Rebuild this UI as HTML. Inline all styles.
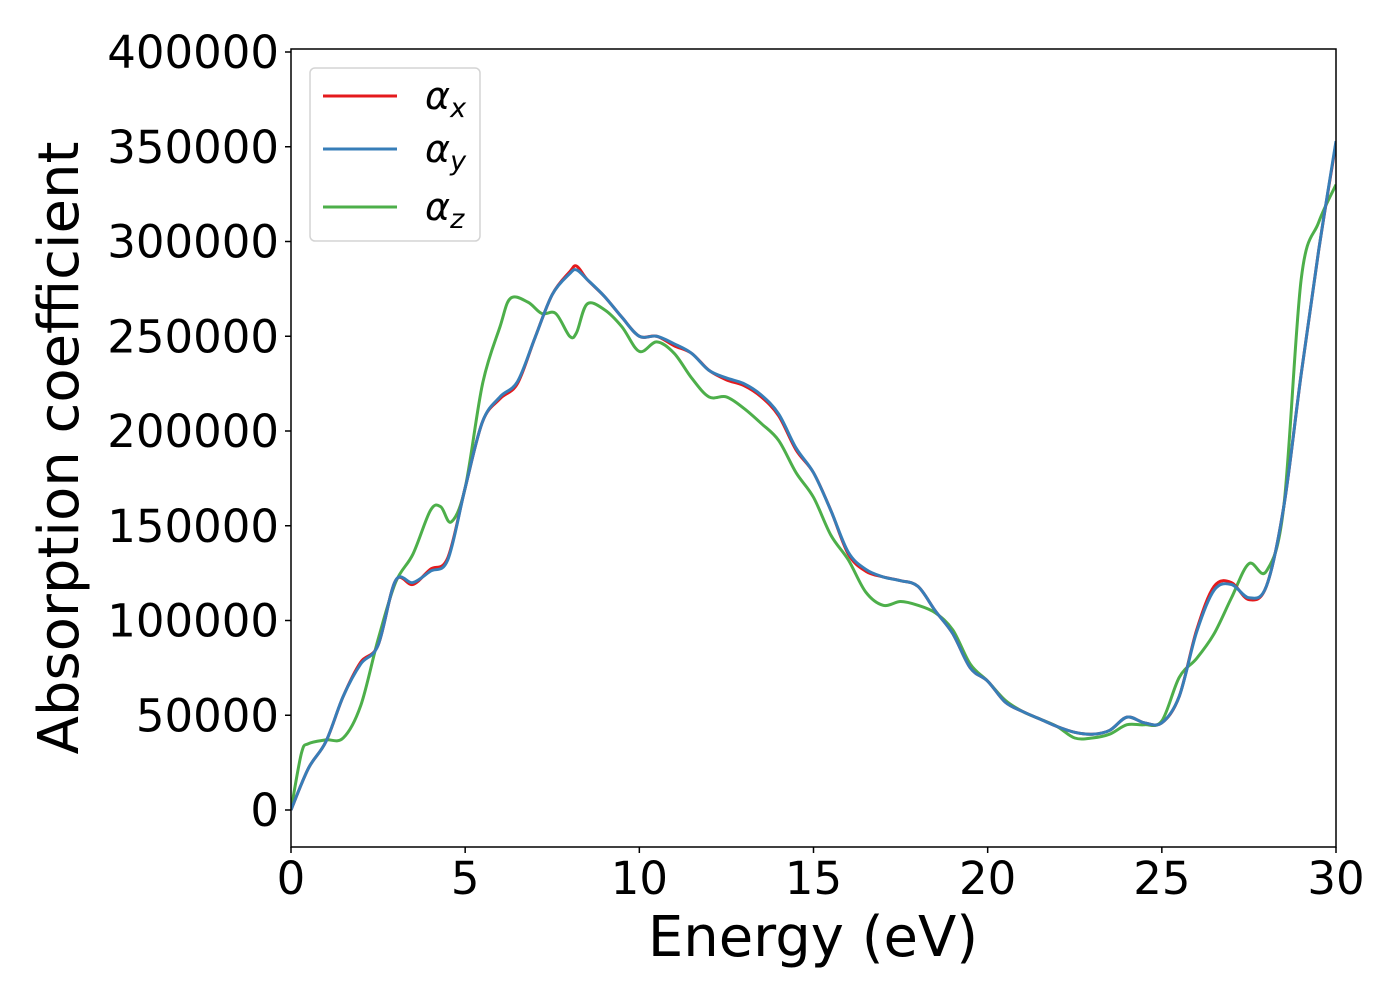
<!DOCTYPE html>
<html><head><meta charset="utf-8"><style>
body{margin:0;background:#fff;}
svg{display:block;font-family:"DejaVu Sans","Liberation Sans",sans-serif;}
</style></head><body>
<svg id="chart" width="1400" height="1000"></svg>
<script>
const xs=[0,0.5,1,1.5,2,2.5,3,3.5,4,4.5,5,5.5,6,6.5,7,7.5,8,8.2,8.5,9,9.5,10,10.5,11,11.5,12,12.5,13,13.5,14,14.5,15,15.5,16,16.5,17,17.5,18,18.5,19,19.5,20,20.5,21,21.5,22,22.5,23,23.5,24,24.5,25,25.5,26,26.5,27,27.5,28,28.5,29,29.5,30];
const alphaX=[0,22,36,60,78,87,121,119,127,133,170,205,217,225,249,272,284,287,280,271,260,250,250,245,241,232,227,224,218,208,190,178,158,135,126,123,121,118,105,93,75,68,57,52,48,44,41,40,42,49,46,46,60,95,118,120,111,118,160,230,295,352];
const alphaY=[0,22,36,60,77,87,121,120,126,132,170,205,218,226,249,272,283,285,280,271,260,250,250,246,241,232,228,225,219,209,191,178,158,136,127,123,121,118,105,93,75,68,57,52,48,44,41,40,42,49,46,46,60,94,116,119,112,118,160,230,295,353];
const xsZ=[0,0.3,0.5,1,1.5,2,2.5,3,3.5,4,4.3,4.6,5,5.5,6,6.3,6.8,7.2,7.6,8,8.2,8.5,9,9.5,10,10.5,11,11.5,12,12.5,13,13.5,14,14.5,15,15.5,16,16.5,17,17.5,18,18.5,19,19.5,20,20.5,21,21.5,22,22.5,23,23.5,24,24.5,25,25.5,26,26.5,27,27.5,28,28.5,29,29.5,30];
const alphaZ=[0,30,35,37,38,55,90,120,135,158,160,152,170,225,255,270,268,262,262,250,252,267,264,255,242,247,241,228,218,218,212,204,195,178,165,145,132,115,108,110,108,104,95,77,68,58,52,48,44,38,38,40,45,45,47,70,80,93,112,130,126,160,280,310,330];
const yTicks=[0,50000,100000,150000,200000,250000,300000,350000,400000];
const xTicks=[0,5,10,15,20,25,30];

const L=291,R=1336,T=49,B=847;
const sx=v=>L+(v/30)*(R-L);
const sy=v=>810-(v/400000)*758;
const NS="http://www.w3.org/2000/svg";
const svg=document.getElementById('chart');
function mk(tag,attrs,parent){const e=document.createElementNS(NS,tag);for(const k in attrs)e.setAttribute(k,attrs[k]);(parent||svg).appendChild(e);return e;}
function pathD(x,y){
  const p=x.map((v,i)=>[sx(v),sy(y[i]*1000)]);
  let d=`M${p[0][0]},${p[0][1]}`;
  for(let i=0;i<p.length-1;i++){
    const p0=p[i-1]||p[i],p1=p[i],p2=p[i+1],p3=p[i+2]||p2;
    const c1=[p1[0]+(p2[0]-p0[0])/6,p1[1]+(p2[1]-p0[1])/6];
    const c2=[p2[0]-(p3[0]-p1[0])/6,p2[1]-(p3[1]-p1[1])/6];
    d+=`C${c1[0]},${c1[1]} ${c2[0]},${c2[1]} ${p2[0]},${p2[1]}`;
  }
  return d;
}
const clip=mk('clipPath',{id:'pc'});mk('rect',{x:L,y:T,width:R-L,height:B-T},clip);
const g=mk('g',{'clip-path':'url(#pc)'});


const lz=mk('path',{d:pathD(xsZ,alphaZ),fill:'none',stroke:'#4daf4a','stroke-width':3},g);


const lx=mk('path',{d:pathD(xs,alphaX),fill:'none',stroke:'#e41a1c','stroke-width':3},g);


const ly=mk('path',{d:pathD(xs,alphaY),fill:'none',stroke:'#377eb8','stroke-width':3},g);


const fr=mk('rect',{x:L,y:T,width:R-L,height:B-T,fill:'none',stroke:'#000','stroke-width':1.5});


yTicks.forEach(v=>{
  mk('line',{x1:L-6,x2:L,y1:sy(v),y2:sy(v),stroke:'#000','stroke-width':1.5});
  const t=mk('text',{x:L-12,y:sy(v)+16,'text-anchor':'end','font-size':45});
  t.textContent=v;
  
  
});
xTicks.forEach(v=>{
  mk('line',{x1:sx(v),x2:sx(v),y1:B,y2:B+6,stroke:'#000','stroke-width':1.5});
  const t=mk('text',{x:sx(v),y:B+47,'text-anchor':'middle','font-size':45});
  t.textContent=v;
  
  
});
const xl=mk('text',{x:813,y:956,'text-anchor':'middle','font-size':56});
xl.textContent='Energy (eV)';


const yl=mk('text',{x:0,y:0,'text-anchor':'middle','font-size':56,transform:'translate(78,448) rotate(-90)'});
yl.textContent='Absorption coefficient';


const lg=mk('g',{});


mk('rect',{x:310,y:68,width:170,height:173,rx:5,fill:'#fff',stroke:'#d0d0d0','stroke-width':1.5,opacity:0.9},lg);
[['#e41a1c','x',96],['#377eb8','y',149],['#4daf4a','z',207]].forEach(([c,s,y])=>{
  mk('line',{x1:323,x2:397,y1:y,y2:y,stroke:c,'stroke-width':3},lg);
  const t=mk('text',{x:425,y:y+13,'font-size':38,'font-style':'italic'},lg);
  t.innerHTML='α<tspan font-size="27" dy="8">'+s+'</tspan>';
  
  
});
</script>
</body></html>
